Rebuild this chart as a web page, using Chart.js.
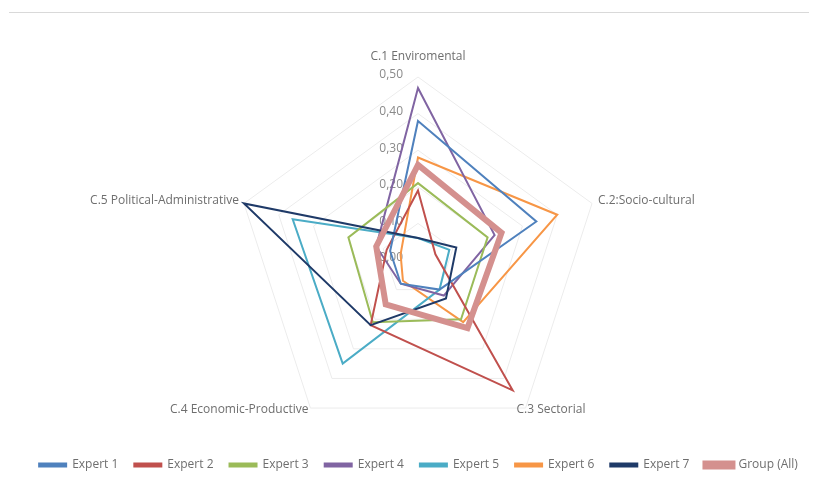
<!DOCTYPE html>
<html>
<head>
<meta charset="utf-8">
<script src="https://cdn.jsdelivr.net/npm/chart.js@4.4.1/dist/chart.umd.min.js"></script>
<style>
  html, body { margin: 0; padding: 0; background: #fff; }
  #wrap { position: relative; width: 821px; height: 484px; }
  #topline { position: absolute; left: 9px; right: 12px; top: 12px; border-top: 1px solid #d9d9d9; }
</style>
</head>
<body>
<div id="wrap">
  <div id="topline"></div>
  <canvas id="myChart" width="821" height="484"></canvas>
</div>
<script>
// criteria (axes of the radar)
const categories = ['C.1 Enviromental', 'C.2:Socio-cultural', 'C.3 Sectorial', 'C.4 Economic-Productive', 'C.5 Political-Administrative'];
const tickValues = [0, 0.1, 0.2, 0.3, 0.4, 0.5];

// weights
const expert1 = [0.38, 0.34, 0.10, 0.08, 0.08];
const expert2 = [0.19, 0.05, 0.44, 0.22, 0.09];
const expert3 = [0.21, 0.20, 0.20, 0.21, 0.20];
const expert4 = [0.47, 0.22, 0.12, 0.08, 0.12];
const expert5 = [0.06, 0.09, 0.10, 0.35, 0.36];
const expert6 = [0.28, 0.40, 0.21, 0.07, 0.05];
const expert7 = [0.06, 0.11, 0.13, 0.22, 0.50];
const groupAll = [0.26, 0.24, 0.23, 0.15, 0.12];

const fmt = v => v.toFixed(2).replace('.', ',');
const labelFont = '12px "Open Sans"';

// axis labels and tick labels drawn Excel-style around the scale
const radarText = {
    id: 'radarText',
    beforeDatasetsDraw(chart) {
        const scale = chart.scales.r;
        const ctx = chart.ctx;
        ctx.save();
        ctx.font = labelFont;
        ctx.fillStyle = '#8a8a8a';
        ctx.textAlign = 'right';
        ctx.textBaseline = 'middle';
        tickValues.forEach(v => {
            const d = scale.getDistanceFromCenterForValue(v);
            ctx.fillText(fmt(v), scale.xCenter - 15, scale.yCenter - d - 2);
        });

        // offsets per axis: [dx, dy, align]
        const place = [[0, -20, 'center'], [6, -3, 'left'], [-9, 2, 'left'], [-2, 2, 'right'], [-5, -3, 'right']];
        ctx.fillStyle = '#6e6e6e';
        categories.forEach((c, i) => {
            const p = scale.getPointPosition(i, scale.drawingArea);
            ctx.textAlign = place[i][2];
            ctx.fillText(c, p.x + place[i][0], p.y + place[i][1]);
        });
        ctx.restore();
    }
};

function ds(label, data, color, width, order) {
    return {
        label: label,
        data: data,
        borderColor: color,
        backgroundColor: color,
        borderWidth: width,
        pointRadius: 0,
        fill: false,
        tension: 0,
        order: order
    };
}

const ctx = document.getElementById('myChart').getContext('2d');
const myChart = new Chart(ctx, {
    type: 'radar',
    data: {
        labels: categories,
        datasets: [
            ds('Expert 1', expert1, '#4f81bd', 2, 0),
            ds('Expert 2', expert2, '#c0504d', 2, 0),
            ds('Expert 3', expert3, '#9bbb59', 2, 0),
            ds('Expert 4', expert4, '#8064a2', 2, 0),
            ds('Expert 5', expert5, '#4bacc6', 2, 0),
            ds('Expert 6', expert6, '#f79646', 2, 0),
            ds('Expert 7', expert7, '#1f3a68', 2, -1),
            ds('Group (All)', groupAll, '#d4908e', 6, -2)
        ]
    },
    plugins: [radarText],
    options: {
        responsive: false,
        animation: false,
        layout: { padding: { top: 77, bottom: 3, left: 16, right: 0 } },
        plugins: {
            tooltip: { enabled: false },
            legend: {
                position: 'bottom',
                labels: {
                    sort: (a, b) => a.datasetIndex - b.datasetIndex,
                    boxWidth: 27,
                    boxHeight: 3,
                    padding: 16,
                    color: '#6e6e6e',
                    font: { family: '"Open Sans"', size: 12 }
                }
            }
        },
        scales: {
            r: {
                min: 0,
                max: 0.5,
                ticks: { display: false, stepSize: 0.1 },
                grid: { color: '#ececec', lineWidth: 1 },
                angleLines: { display: false },
                pointLabels: { display: false }
            }
        }
    }
});
</script>
</body>
</html>
